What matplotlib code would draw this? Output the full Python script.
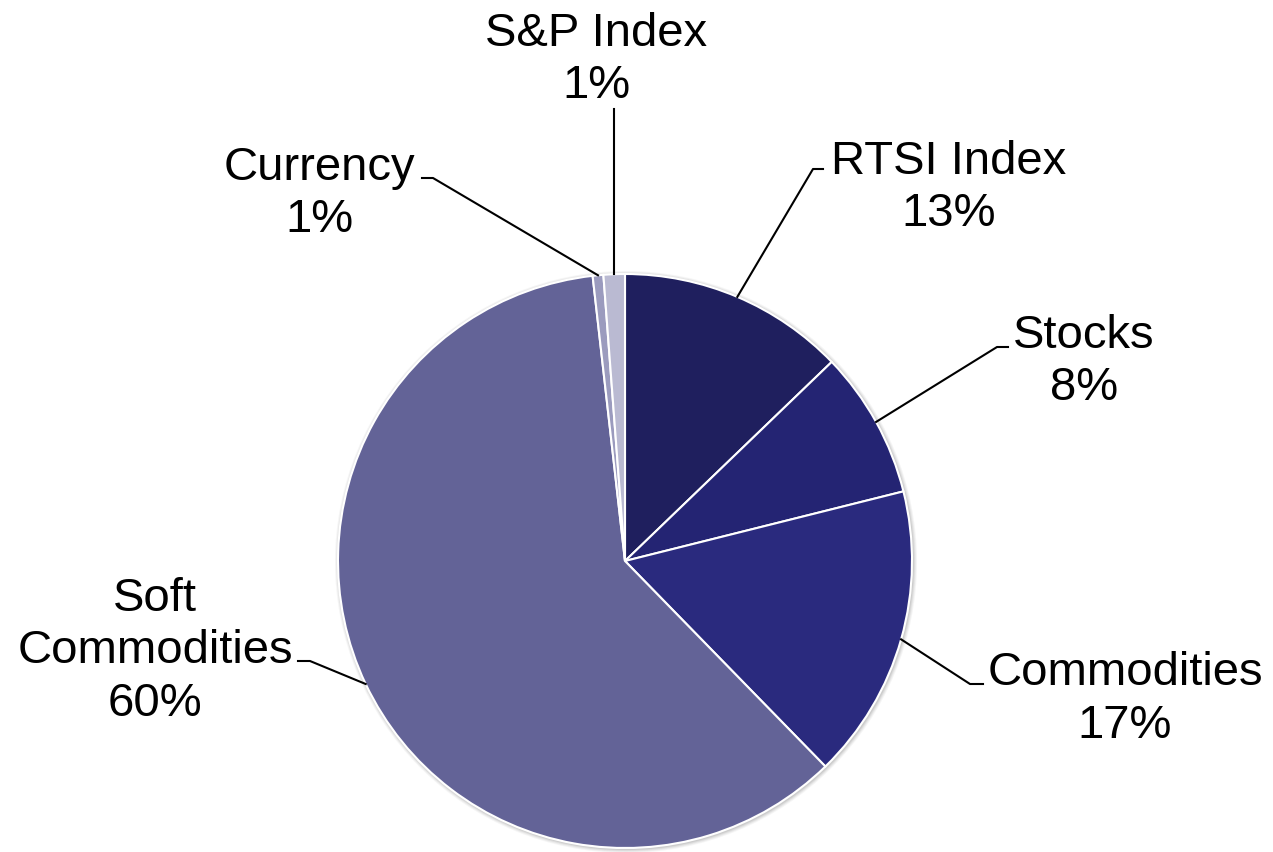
import matplotlib
matplotlib.use("Agg")
import matplotlib.pyplot as plt
import numpy as np
from matplotlib.patches import Circle

categories = ["RTSI Index", "Stocks", "Commodities", "Soft\nCommodities", "Currency", "S&P Index"]
values = [12.8, 8.3, 16.6, 60.5, 0.6, 1.2]
pct_labels = ["13%", "8%", "17%", "60%", "1%", "1%"]
colors = ["#1F1F5E", "#242473", "#2A2A7E", "#636397", "#9B9BBE", "#BABAD2"]

W, H = 1273, 853
plt.rcParams['font.family'] = ['Liberation Sans', 'DejaVu Sans']

fig = plt.figure(figsize=(W / 100, H / 100), dpi=100)
ax = fig.add_axes([0, 0, 1, 1])

cx, cy, R = 625, H - 562, 287

# soft shadow
for dr, a in [(4, 0.08), (3, 0.10), (2, 0.14), (1, 0.18)]:
    ax.add_patch(Circle((cx + 1, cy - 1), R + dr, color='#888888', alpha=a, lw=0, zorder=0))

wedges, _ = ax.pie(values, colors=colors, startangle=90, counterclock=False,
                   center=(cx, cy), radius=R, frame=True,
                   wedgeprops=dict(edgecolor='white', linewidth=1.5))
ax.set_xlim(0, W)
ax.set_ylim(0, H)
ax.set_aspect('equal')
ax.axis('off')

# label layout (pixel coords from top): text center x, last baseline y, bend point, line end x
layout = {
    "RTSI Index": dict(tx=949, ty=226, bend=(813, 170), end=823),
    "Stocks": dict(tx=1084, ty=400, bend=(997, 348), end=1008),
    "Commodities": dict(tx=1125, ty=738, bend=(970, 685), end=983),
    "Soft\nCommodities": dict(tx=155, ty=716, bend=(310, 662), end=298),
    "Currency": dict(tx=319, ty=232, bend=(433, 179), end=422),
    "S&P Index": dict(tx=596, ty=98, bend=None, end=None),
}

for w, cat, pct in zip(wedges, categories, pct_labels):
    ang = np.deg2rad((w.theta1 + w.theta2) / 2)
    ax_x = cx + R * np.cos(ang)
    ax_y = cy + R * np.sin(ang)
    L = layout[cat]
    ax.text(L["tx"], H - L["ty"], f"{cat}\n{pct}", ha='center', va='baseline',
            fontsize=34, multialignment='center', linespacing=1.25, color='black', zorder=5)
    if L["bend"] is None:
        ax.plot([ax_x, ax_x], [ax_y, H - 110], color='black', lw=1.5, zorder=4)
    else:
        bx, by = L["bend"]
        ax.plot([ax_x, bx, L["end"]], [ax_y, H - by, H - by], color='black', lw=1.5, zorder=4)

fig.savefig("out.png", dpi=100)
